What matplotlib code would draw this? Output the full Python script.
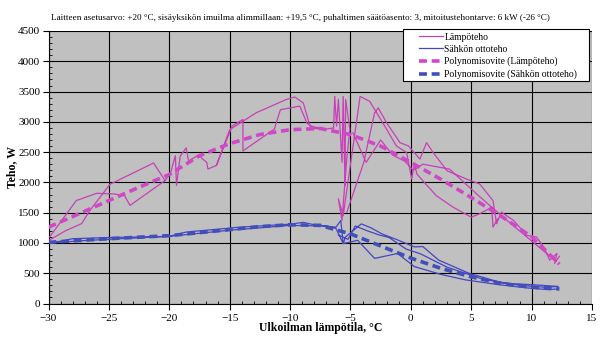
import numpy as np
import matplotlib
matplotlib.use("Agg")
import matplotlib.pyplot as plt
from matplotlib.ticker import MultipleLocator
from matplotlib.patches import Rectangle

nan = np.nan

# Measured heat output (Lämpöteho), several traced segments separated by NaN
heat_x = [
    -29.9, -28.6, -27.25, -26.6, -24.9, -21.3, -20.35, -23.25, -23.7, -24.6, -26.0, -27.7, -29.9, nan,
    -20.35, -19.9, -19.5, -19.4, -19.1, -18.6, -18.4, -17.6, -16.9, -16.8, -16.1, -14.8, -13.9, -13.9,
    -12.6, -11.3, -10.8, -9.2, -8.6, -8.0, -7.0, -6.4, nan,
    -16.1, -15.0, -12.8, -10.3, -9.6, -8.9, -8.35, -7.6, nan,
    -6.4, -6.3, -6.15, -6.0, -5.7, -5.6, -5.45, -5.4, -5.05, -5.3, -5.7, -6.0, -5.6, -4.2, -3.4,
    -2.0, -1.2, -0.35, 0.07, 0.3, 0.5, 2.1, 3.5, 5.0, 5.7, 6.7, 6.8, 7.2, nan,
    -5.3, -3.9, -3.0, -2.7, -2.0, -0.9, -0.2, 0.75, 1.3, 1.85, 3.0, 4.6, 5.7, 6.8, 7.1, 7.5, 8.5,
    9.6, 10.4, 11.0, 11.5, 12.1, 11.9, 12.3, nan,
    -4.8, -3.7, -2.5, -1.5, -0.5, 0.2, 1.0, 3.2, 5.5, 7.5, 9.0, 10.5, 12.0,
]
heat_y = [
    1050, 1200, 1320, 1530, 1970, 2320, 2030, 1620, 1780, 1810, 1820, 1700, 1100, nan,
    2030, 2150, 2440, 1950, 2430, 2570, 2350, 2450, 2330, 2220, 2280, 2930, 3040, 2520,
    2700, 2880, 3200, 3260, 2980, 2890, 2880, 2900, nan,
    2280, 2870, 3150, 3370, 3410, 3310, 2930, 2900, nan,
    2900, 3420, 2930, 3370, 2330, 3420, 1950, 3370, 2875, 2400, 1372, 1728, 1450, 3420, 3338,
    2875, 2602, 2492, 2056, 2300, 2138, 1782, 1590, 1426, 1482, 1590, 1262, 1400, nan,
    1508, 2328, 3148, 3230, 2984, 2656, 2602, 2384, 2656, 2492, 2192, 2056, 1974, 1700, 1318, 1508, 1372,
    1126, 1098, 934, 716, 826, 662, 780, nan,
    2820, 2330, 2700, 2450, 2350, 2200, 2300, 2220, 1800, 1450, 1200, 950, 700,
]

# Measured electric input (Sähkön ottoteho)
elec_x = [
    -30.0, -28.0, -25.0, -21.7, -20.0, -18.6, -14.2, -10.0, -8.9, -8.0, -6.2, -5.8, -5.6, -5.4, -4.1,
    -3.3, -2.4, -1.1, 0.3, 1.0, 2.3, 4.8, 7.6, 10.1, 12.1, nan,
    -30.0, -27.0, -25.0, -20.0, -15.0, -10.0, -7.0, -6.2, -5.6, -4.4, -3.0, -1.1, 0.3, 2.5, 4.5,
    7.3, 9.5, 11.4, 12.1, nan,
    -6.0, -5.2, -4.6, -3.6, -2.6, -1.8, -0.4, 0.8, 3.0, 6.0, 9.0, 11.0, 12.2,
]
elec_y = [
    990, 1070, 1090, 1100, 1110, 1180, 1260, 1310, 1340, 1300, 1260, 1370, 990, 1100, 1315,
    1250, 1150, 1050, 935, 940, 717, 500, 337, 310, 283, nan,
    1000, 1040, 1060, 1110, 1210, 1290, 1280, 1240, 990, 1043, 745, 826, 609, 480, 391,
    310, 260, 228, 240, nan,
    1130, 1060, 1280, 1200, 1130, 1090, 900, 820, 600, 400, 300, 270, 280,
]

# Polynomial fits
fit_x = [-30, -27.5, -25, -22.5, -20, -17.5, -15, -12.5, -10, -7.5, -5, -2.5, 0, 2.5, 5, 7.5, 10, 12.3]
fit_heat = [1260, 1480, 1700, 1920, 2130, 2440, 2640, 2790, 2870, 2890, 2790, 2600, 2330, 2050, 1750, 1440, 1100, 650]
fit_elec = [1010, 1040, 1070, 1095, 1120, 1170, 1220, 1270, 1300, 1290, 1150, 950, 750, 580, 440, 330, 270, 240]

title_text = ("Laitteen asetusarvo: +20 °C, sisäyksikön imuilma alimmillaan: +19,5 °C, "
              "puhaltimen säätöasento: 3, mitoitustehontarve: 6 kW (-26 °C)")

plt.rcParams['font.family'] = ['Liberation Serif', 'DejaVu Serif']

W, H = 612, 350
fig = plt.figure(figsize=(6.12, 3.5), dpi=100)
ax = fig.add_axes([48.5 / W, 1 - 303.5 / H, (592 - 48.5) / W, (303.5 - 31) / H])
ax.set_facecolor('#C0C0C0')

pink = '#C840B8'
blue = '#4646C0'
ax.plot(heat_x, heat_y, color=pink, lw=0.9, label='Lämpöteho', zorder=3)
ax.plot(elec_x, elec_y, color=blue, lw=0.9, label='Sähkön ottoteho', zorder=3)
ax.plot(fit_x, fit_heat, color='#D048C8', lw=2.6, dashes=(2.2, 1.3),
        label='Polynomisovite (Lämpöteho)', zorder=4)
ax.plot(fit_x, fit_elec, color='#4050B8', lw=2.6, dashes=(2.2, 1.3),
        label='Polynomisovite (Sähkön ottoteho)', zorder=4)

ax.set_xlim(-30, 15)
ax.set_ylim(0, 4500)
ax.xaxis.set_major_locator(MultipleLocator(5))
ax.xaxis.set_minor_locator(MultipleLocator(1))
ax.yaxis.set_major_locator(MultipleLocator(500))
ax.yaxis.set_minor_locator(MultipleLocator(100))
ax.grid(True, which='major', color='black', lw=0.8, zorder=1)
ax.set_axisbelow(True)
for s in ['top', 'right']:
    ax.spines[s].set_visible(False)
for s in ['left', 'bottom']:
    ax.spines[s].set_color('black')
    ax.spines[s].set_linewidth(0.8)
ax.tick_params(axis='both', which='major', direction='out', length=4, labelsize=8, width=0.8)
ax.tick_params(axis='y', which='major', pad=2)
ax.tick_params(axis='both', which='minor', direction='in', length=2.5, width=0.6)

ax.set_xlabel('Ulkoilman lämpötila, °C', fontsize=8.5, fontweight='bold')
ax.xaxis.set_label_coords(0.5, -0.068)
ax.set_ylabel('Teho, W', fontsize=8.5, fontweight='bold')
ax.yaxis.set_label_coords(-0.056, 0.5)

fig.text(51 / W, 1 - 18 / H, title_text, fontsize=6.6, ha='left', va='center')

# legend box
box = Rectangle((403 / W, 1 - 81 / H), (589 - 403) / W, (81 - 29) / H,
                transform=fig.transFigure, facecolor='white', edgecolor='black',
                lw=0.8, zorder=5)
fig.add_artist(box)
leg = fig.legend(*ax.get_legend_handles_labels(), loc='upper left',
                 bbox_to_anchor=(419 / W, 1 - 32.5 / H), fontsize=6.9, frameon=False,
                 handlelength=2.5, handletextpad=0.15, borderpad=0, labelspacing=0.33,
                 borderaxespad=0)
leg.set_zorder(6)

fig.savefig('out.png', dpi=100)
